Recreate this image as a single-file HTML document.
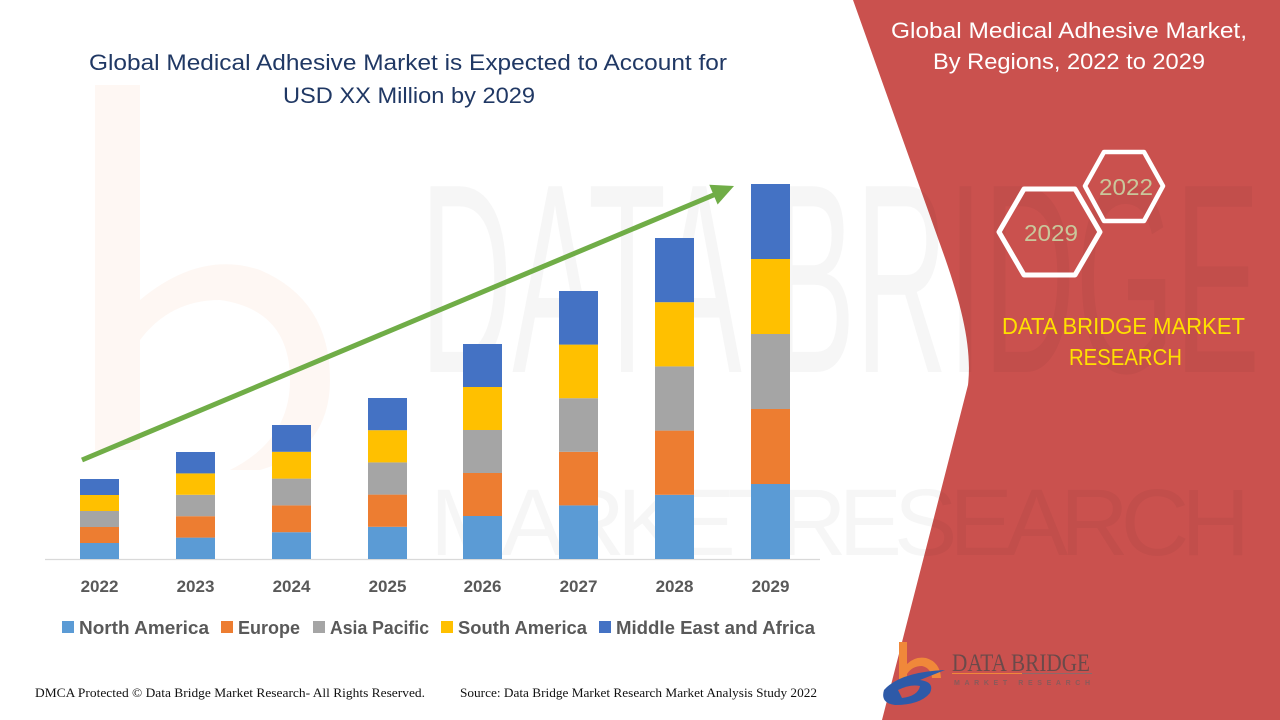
<!DOCTYPE html>
<html>
<head>
<meta charset="utf-8">
<style>
  html,body{margin:0;padding:0;background:#fff;}
  svg{display:block;}
  text{font-family:"Liberation Sans",sans-serif;}
</style>
</head>
<body>
<svg width="1280" height="720" viewBox="0 0 1280 720" xmlns="http://www.w3.org/2000/svg">
  <rect width="1280" height="720" fill="#ffffff"/>

  <!-- faint orange b watermark -->
  <g opacity="0.06">
    <path d="M95,85 L140,85 L140,300 Q200,250 260,270 Q330,300 330,380 Q330,450 260,470 L230,470 Q290,440 290,380 Q290,310 220,300 Q170,300 140,340 L140,450 L95,450 Z" fill="#ED7D31"/>
  </g>

  <!-- red panel -->
  <path d="M853,0 L945,258 C963,310 972,350 968,385 L882,720 L1280,720 L1280,0 Z" fill="#CA514E"/>

  <!-- faint text watermark (over both areas) -->
  <g opacity="0.03">
    <text x="420" y="372" font-size="270" fill="#000" textLength="840" lengthAdjust="spacingAndGlyphs">DATA BRIDGE</text>
    <text x="430" y="555" font-size="95" fill="#000" textLength="820" lengthAdjust="spacing">MARKETRESEARCH</text>
  </g>

  <!-- main title -->
  <text x="89" y="70" font-size="22" fill="#203864" textLength="638" lengthAdjust="spacingAndGlyphs">Global Medical Adhesive Market is Expected to Account for</text>
  <text x="283" y="103" font-size="22" fill="#203864" textLength="252" lengthAdjust="spacingAndGlyphs">USD XX Million by 2029</text>

  <!-- baseline -->
  <line x1="45" y1="559.5" x2="820" y2="559.5" stroke="#D9D9D9" stroke-width="1.2"/>

  <!-- bars -->
  <g>
    <rect x="80" y="543" width="39" height="16" fill="#5B9BD5"/>
    <rect x="80" y="527" width="39" height="16" fill="#ED7D31"/>
    <rect x="80" y="511" width="39" height="16" fill="#A5A5A5"/>
    <rect x="80" y="495" width="39" height="16" fill="#FFC000"/>
    <rect x="80" y="479" width="39" height="16" fill="#4472C4"/>
    <rect x="176" y="537.6" width="39" height="21.4" fill="#5B9BD5"/>
    <rect x="176" y="516.2" width="39" height="21.4" fill="#ED7D31"/>
    <rect x="176" y="494.8" width="39" height="21.4" fill="#A5A5A5"/>
    <rect x="176" y="473.4" width="39" height="21.4" fill="#FFC000"/>
    <rect x="176" y="452" width="39" height="21.4" fill="#4472C4"/>
    <rect x="272" y="532.2" width="39" height="26.8" fill="#5B9BD5"/>
    <rect x="272" y="505.4" width="39" height="26.8" fill="#ED7D31"/>
    <rect x="272" y="478.6" width="39" height="26.8" fill="#A5A5A5"/>
    <rect x="272" y="451.8" width="39" height="26.8" fill="#FFC000"/>
    <rect x="272" y="425" width="39" height="26.8" fill="#4472C4"/>
    <rect x="368" y="526.8" width="39" height="32.2" fill="#5B9BD5"/>
    <rect x="368" y="494.6" width="39" height="32.2" fill="#ED7D31"/>
    <rect x="368" y="462.4" width="39" height="32.2" fill="#A5A5A5"/>
    <rect x="368" y="430.2" width="39" height="32.2" fill="#FFC000"/>
    <rect x="368" y="398" width="39" height="32.2" fill="#4472C4"/>
    <rect x="463" y="516" width="39" height="43" fill="#5B9BD5"/>
    <rect x="463" y="473" width="39" height="43" fill="#ED7D31"/>
    <rect x="463" y="430" width="39" height="43" fill="#A5A5A5"/>
    <rect x="463" y="387" width="39" height="43" fill="#FFC000"/>
    <rect x="463" y="344" width="39" height="43" fill="#4472C4"/>
    <rect x="559" y="505.4" width="39" height="53.6" fill="#5B9BD5"/>
    <rect x="559" y="451.8" width="39" height="53.6" fill="#ED7D31"/>
    <rect x="559" y="398.2" width="39" height="53.6" fill="#A5A5A5"/>
    <rect x="559" y="344.6" width="39" height="53.6" fill="#FFC000"/>
    <rect x="559" y="291" width="39" height="53.6" fill="#4472C4"/>
    <rect x="655" y="494.8" width="39" height="64.2" fill="#5B9BD5"/>
    <rect x="655" y="430.6" width="39" height="64.2" fill="#ED7D31"/>
    <rect x="655" y="366.4" width="39" height="64.2" fill="#A5A5A5"/>
    <rect x="655" y="302.2" width="39" height="64.2" fill="#FFC000"/>
    <rect x="655" y="238" width="39" height="64.2" fill="#4472C4"/>
    <rect x="751" y="484" width="39" height="75" fill="#5B9BD5"/>
    <rect x="751" y="409" width="39" height="75" fill="#ED7D31"/>
    <rect x="751" y="334" width="39" height="75" fill="#A5A5A5"/>
    <rect x="751" y="259" width="39" height="75" fill="#FFC000"/>
    <rect x="751" y="184" width="39" height="75" fill="#4472C4"/>
  </g>

  <!-- arrow -->
  <line x1="82" y1="460" x2="716" y2="194" stroke="#70AD47" stroke-width="5"/>
  <polygon points="734,186 717.6,204.5 709.3,184.8" fill="#70AD47"/>

  <!-- year labels -->
  <g font-size="17" font-weight="bold" fill="#595959" text-anchor="middle">
    <text x="99.5" y="592">2022</text>
    <text x="195.5" y="592">2023</text>
    <text x="291.5" y="592">2024</text>
    <text x="387.5" y="592">2025</text>
    <text x="482.5" y="592">2026</text>
    <text x="578.5" y="592">2027</text>
    <text x="674.5" y="592">2028</text>
    <text x="770.5" y="592">2029</text>
  </g>

  <!-- legend -->
  <g font-size="18" font-weight="bold" fill="#595959">
    <rect x="62" y="621" width="12" height="12" fill="#5B9BD5"/>
    <text x="79" y="634" textLength="130" lengthAdjust="spacingAndGlyphs">North America</text>
    <rect x="221" y="621" width="12" height="12" fill="#ED7D31"/>
    <text x="238" y="634" textLength="62" lengthAdjust="spacingAndGlyphs">Europe</text>
    <rect x="313" y="621" width="12" height="12" fill="#A5A5A5"/>
    <text x="330" y="634" textLength="99" lengthAdjust="spacingAndGlyphs">Asia Pacific</text>
    <rect x="441" y="621" width="12" height="12" fill="#FFC000"/>
    <text x="458" y="634" textLength="129" lengthAdjust="spacingAndGlyphs">South America</text>
    <rect x="599" y="621" width="12" height="12" fill="#4472C4"/>
    <text x="616" y="634" textLength="199" lengthAdjust="spacingAndGlyphs">Middle East and Africa</text>
  </g>

  <!-- footer -->
  <text x="35" y="697" font-size="12.5" fill="#111" textLength="390" lengthAdjust="spacingAndGlyphs" style="font-family:'Liberation Serif',serif">DMCA Protected © Data Bridge Market Research- All Rights Reserved.</text>
  <text x="460" y="697" font-size="12.5" fill="#111" textLength="357" lengthAdjust="spacingAndGlyphs" style="font-family:'Liberation Serif',serif">Source: Data Bridge Market Research Market Analysis Study 2022</text>

  <!-- right panel title -->
  <text x="891" y="38" font-size="22" fill="#ffffff" textLength="356" lengthAdjust="spacingAndGlyphs">Global Medical Adhesive Market,</text>
  <text x="933" y="69" font-size="22" fill="#ffffff" textLength="272" lengthAdjust="spacingAndGlyphs">By Regions, 2022 to 2029</text>

  <!-- hexagons -->
  <polygon points="1085,186 1104,152 1144,152 1163,186 1144,221 1104,221" fill="none" stroke="#ffffff" stroke-width="4.5" stroke-linejoin="round"/>
  <polygon points="999,232 1024,189 1075,189 1100,232 1075,275 1024,275" fill="none" stroke="#ffffff" stroke-width="5" stroke-linejoin="round"/>
  <text x="1126" y="195" font-size="23" fill="#C9C79B" text-anchor="middle" textLength="54" lengthAdjust="spacingAndGlyphs">2022</text>
  <text x="1051" y="241" font-size="23" fill="#C9C79B" text-anchor="middle" textLength="54" lengthAdjust="spacingAndGlyphs">2029</text>

  <!-- DBMR text -->
  <text x="1002" y="334" font-size="23" fill="#FFE000" textLength="243" lengthAdjust="spacingAndGlyphs">DATA BRIDGE MARKET</text>
  <text x="1069" y="365" font-size="23" fill="#FFE000" textLength="113" lengthAdjust="spacingAndGlyphs">RESEARCH</text>

  <!-- bottom logo -->
  <g>
    <path d="M899,642 L907,642 L907,664 Q915,656 926,658 Q940,662 941,678 L932,678 Q931,668 922,666 Q912,666 907,674 L907,684 L899,684 Z" fill="#F0883A"/>
    <path d="M884,690 Q900,672 945,670 Q930,676 920,680 Q935,682 930,693 Q920,705 895,705 Q880,703 884,690 Z" fill="#2E5AA8"/>
    <path d="M898,690 Q910,684 920,686 Q918,696 902,698 Z" fill="#CA514E"/>
    <text x="952" y="671" font-size="25" fill="#6A4A4A" textLength="138" lengthAdjust="spacingAndGlyphs" style="font-family:'Liberation Serif',serif">DATA BRIDGE</text>
    <line x1="952" y1="673.5" x2="1022" y2="673.5" stroke="#F0883A" stroke-width="1"/>
    <line x1="1022" y1="673.5" x2="1092" y2="673.5" stroke="#8A6A6A" stroke-width="1"/>
    <text x="954" y="685" font-size="7" fill="#8A5A5A" textLength="136" lengthAdjust="spacing" font-weight="bold">MARKET RESEARCH</text>
  </g>
</svg>
</body>
</html>
